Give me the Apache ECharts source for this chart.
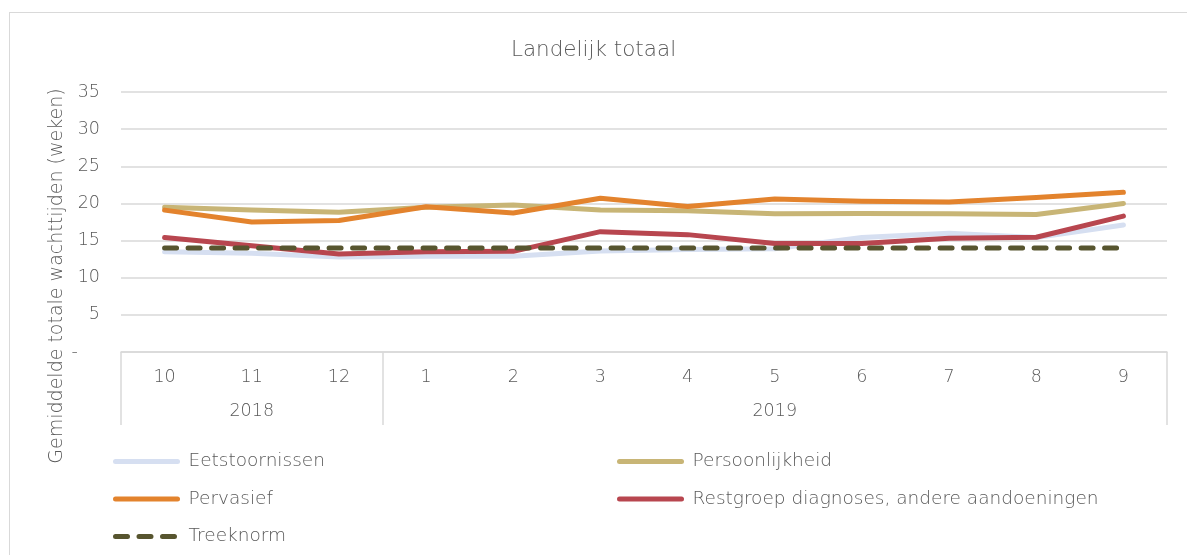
<!DOCTYPE html>
<html>
<head>
<meta charset="utf-8">
<script src="https://cdn.jsdelivr.net/npm/echarts@6/dist/echarts.min.js"></script>
<style>
  html, body { margin: 0; padding: 0; background: #fff; }
  #frame {
    position: absolute; left: 9px; top: 12px; width: 1200px; height: 560px;
    border-left: 1.5px solid #d9d9d9; border-top: 1.5px solid #d9d9d9;
  }
  #chart { position: absolute; left: 0; top: 0; width: 1187px; height: 555px; }
</style>
</head>
<body>
<div id="frame"></div>
<div id="chart"></div>
<script>
  // maanden (okt 2018 - sep 2019)
  const months = ['10', '11', '12', '1', '2', '3', '4', '5', '6', '7', '8', '9'];
  const years = ['2018', '2019'];
  const yearSpans = [3, 9];

  const eetstoornissen = [13.5, 13.3, 12.8, 12.9, 12.9, 13.6, 13.8, 13.9, 15.4, 16.0, 15.4, 17.1];
  const persoonlijkheid = [19.5, 19.1, 18.8, 19.5, 19.8, 19.1, 19.0, 18.6, 18.65, 18.6, 18.5, 20.0];
  const pervasief = [19.1, 17.5, 17.7, 19.55, 18.7, 20.7, 19.6, 20.6, 20.3, 20.2, 20.8, 21.5];
  const restgroep = [15.4, 14.3, 13.2, 13.5, 13.55, 16.2, 15.8, 14.6, 14.6, 15.3, 15.45, 18.3];
  const treeknorm = [14, 14, 14, 14, 14, 14, 14, 14, 14, 14, 14, 14];

  const FONT = 'DejaVu Sans';
  const TEXT = '#595959';
  const GRID = '#d9d9d9';

  // grenzen en midden van de jaargroepen op de categorie-as
  const yearEdges = [0];
  yearSpans.forEach((s) => yearEdges.push(yearEdges[yearEdges.length - 1] + s));
  const yearMids = yearSpans.map((s, i) => yearEdges[i] + s / 2);

  const chart = echarts.init(document.getElementById('chart'));

  const line = (name, data, color, extra) => ({
    name,
    type: 'line',
    data,
    symbol: 'none',
    xAxisIndex: 0,
    lineStyle: Object.assign({ color, width: 5, cap: 'round', join: 'round' }, extra || {}),
    itemStyle: { color },
    emphasis: { disabled: true },
    z: 3,
  });

  const legendText = { fontFamily: FONT, fontWeight: 200, fontSize: 18.5, color: TEXT, padding: [0, 0, 0, 6] };
  const legendBase = {
    orient: 'vertical',
    top: 447,
    itemWidth: 62,
    itemHeight: 20,
    itemGap: 18.5,
    itemStyle: { opacity: 0 },
    lineStyle: { width: 5, cap: 'round' },
    textStyle: legendText,
  };

  chart.setOption({
    animation: false,
    textStyle: { fontFamily: FONT, fontWeight: 200, color: TEXT },
    title: {
      text: 'Landelijk totaal',
      left: 'center',
      top: 34,
      textStyle: { fontFamily: FONT, fontWeight: 200, fontSize: 21.5, color: TEXT },
    },
    grid: { left: 121, right: 20, top: 92, bottom: 203 },
    legend: [
      Object.assign({}, legendBase, { left: 108, data: ['Eetstoornissen', 'Pervasief', 'Treeknorm'] }),
      Object.assign({}, legendBase, { left: 612, data: ['Persoonlijkheid', 'Restgroep diagnoses, andere aandoeningen'] }),
    ],
    xAxis: [
      {
        type: 'category',
        data: months,
        boundaryGap: true,
        axisLine: { lineStyle: { color: GRID, width: 1.5 } },
        axisTick: { show: false },
        axisLabel: { margin: 16, fontSize: 17.5, color: TEXT, fontFamily: FONT, fontWeight: 200 },
      },
      {
        type: 'value',
        position: 'bottom',
        min: 0,
        max: months.length,
        axisLine: { show: false },
        splitLine: { show: false },
        axisTick: {
          show: true,
          customValues: yearEdges,
          length: 73,
          lineStyle: { color: GRID, width: 1.5 },
        },
        axisLabel: {
          customValues: yearMids,
          margin: 50,
          fontSize: 17.5,
          color: TEXT,
          fontFamily: FONT,
          fontWeight: 200,
          formatter: (v) => years[yearMids.indexOf(v)] || '',
        },
      },
    ],
    yAxis: {
      type: 'value',
      min: 0,
      max: 35,
      interval: 5,
      axisLine: { show: false },
      axisTick: { show: false },
      splitLine: { lineStyle: { color: GRID, width: 1.5 } },
      axisLabel: {
        margin: 21,
        fontSize: 17.5,
        color: TEXT,
        fontFamily: FONT,
        fontWeight: 200,
        formatter: (v) => (v === 0 ? '-    ' : String(v)),
      },
    },
    graphic: [
      {
        type: 'text',
        x: 57,
        y: 276,
        rotation: Math.PI / 2,
        style: {
          text: 'Gemiddelde totale wachttijden (weken)',
          fontFamily: FONT,
          fontWeight: 200,
          fontSize: 19,
          fill: TEXT,
          align: 'center',
          verticalAlign: 'middle',
        },
      },
    ],
    series: [
      line('Eetstoornissen', eetstoornissen, '#d6dff1'),
      line('Persoonlijkheid', persoonlijkheid, '#c8b576'),
      line('Pervasief', pervasief, '#e3832d'),
      line('Restgroep diagnoses, andere aandoeningen', restgroep, '#b8464f'),
      line('Treeknorm', treeknorm, '#57552f', { type: [12, 11.5], cap: 'round' }),
    ],
  });
</script>
</body>
</html>
